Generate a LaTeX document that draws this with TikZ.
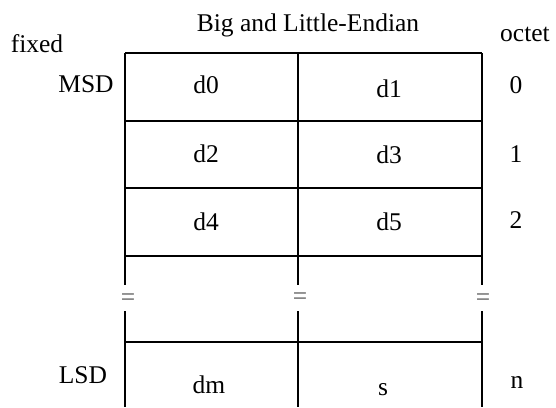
\documentclass[tikz,border=0pt]{standalone}
\usepackage{fontspec}
\setmainfont{Liberation Serif}
\begin{document}
\begin{tikzpicture}
  [x=1pt,y=-1pt,
   txt/.style={inner sep=0pt,anchor=base,font=\fontsize{25.5}{29}\selectfont},
   brk/.style={txt,anchor=center,text=black!65},
   grid/.style={line width=2.6pt}]
  \useasboundingbox (0,0) rectangle (556,407);

  % headings
  \node (title) at (308,31) [txt] {Big and Little-Endian};
  \node (fixed) at (37,52) [txt] {fixed};
  \node (octet) at (525,41) [txt] {octet};

  % rows
  \draw [grid] (125,53) -- (482,53);
  \draw [grid] (125,121) -- (482,121);
  \draw [grid] (125,188) -- (482,188);
  \draw [grid] (125,256) -- (482,256);
  \draw [grid] (125,342) -- (482,342);

  % columns, broken at the gap
  \draw [grid] (125,53) -- (125,285);
  \draw [grid] (298,53) -- (298,285);
  \draw [grid] (482,53) -- (482,285);
  \draw [grid] (125,311) -- (125,407);
  \draw [grid] (298,311) -- (298,407);
  \draw [grid] (482,311) -- (482,407);

  \node (eqa) at (128,300) [brk] {=};
  \node (eqb) at (300,299) [brk] {=};
  \node (eqc) at (483,300) [brk] {=};

  % digits
  \node (msd) at (86,92) [txt] {MSD};
  \node (lsd) at (83,383) [txt] {LSD};

  \node (d0) at (206,93) [txt] {d0};
  \node (d1) at (389,97) [txt] {d1};
  \node (d2) at (206,162) [txt] {d2};
  \node (d3) at (389,163) [txt] {d3};
  \node (d4) at (206,230) [txt] {d4};
  \node (d5) at (389,230) [txt] {d5};
  \node (dm) at (209,393) [txt] {dm};
  \node (s) at (383,395) [txt] {s};

  % octet numbers
  \node (o0) at (516,93) [txt] {0};
  \node (o1) at (516,162) [txt] {1};
  \node (o2) at (516,228) [txt] {2};
  \node (on) at (517,388) [txt] {n};
\end{tikzpicture}
\end{document}
